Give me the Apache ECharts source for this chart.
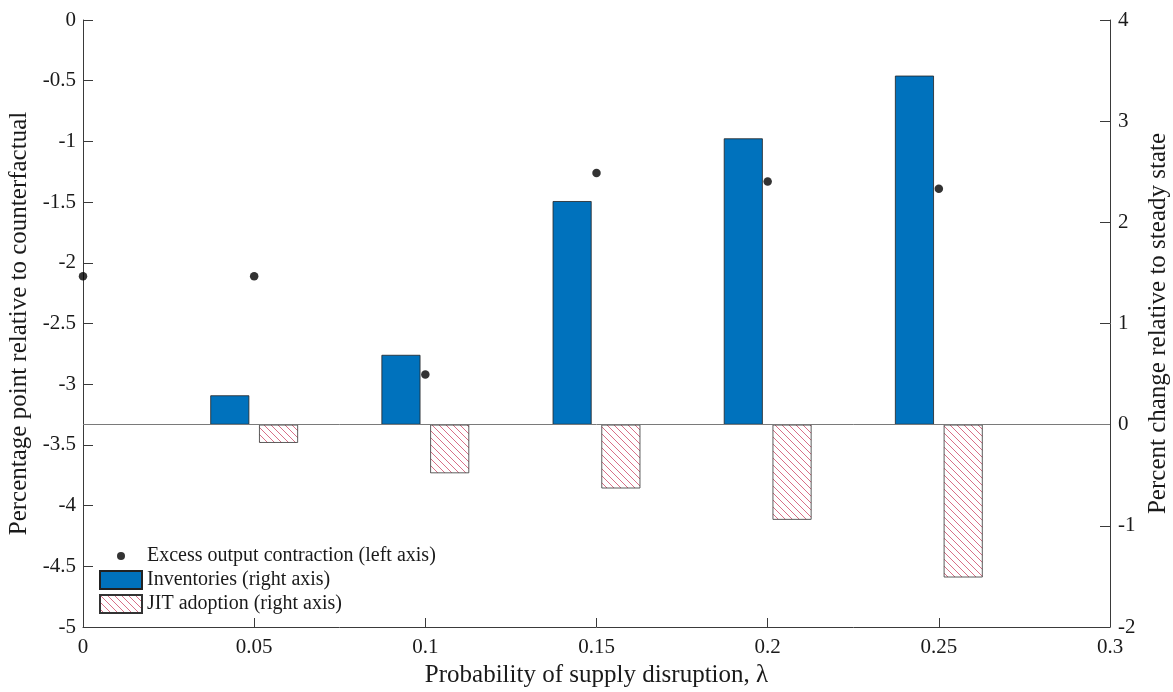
<!DOCTYPE html>
<html>
<head>
<meta charset="utf-8">
<title>Supply disruption probability</title>
<script src="https://cdn.jsdelivr.net/npm/echarts@6/dist/echarts.min.js"></script>
<style>
  html, body { margin: 0; padding: 0; background: #fff; }
  #chart { width: 1173px; height: 692px; }
</style>
</head>
<body>
<div id="chart"></div>
<script>
// Probability of supply disruption (x values)
const lambdaPoints = [0, 0.05, 0.1, 0.15, 0.2, 0.25];
const lambdaBars = [0.05, 0.1, 0.15, 0.2, 0.25];

// Excess output contraction, percentage points (left axis)
const outputContraction = [-2.11, -2.11, -2.92, -1.26, -1.33, -1.39];
// Inventories, percent change relative to steady state (right axis)
const inventories = [0.29, 0.69, 2.21, 2.83, 3.45];
// JIT adoption, percent change relative to steady state (right axis)
const jitAdoption = [-0.18, -0.48, -0.63, -0.94, -1.51];

const seriesNames = [
  'Excess output contraction (left axis)',
  'Inventories (right axis)',
  'JIT adoption (right axis)'
];

const FONT = '"Liberation Serif", "DejaVu Serif", serif';
const AXIS_COLOR = '#3a3a3a';

// Diagonal hatch used for the JIT bars
function makeHatch() {
  const s = 7;
  const c = document.createElement('canvas');
  c.width = s; c.height = s;
  const g = c.getContext('2d');
  g.fillStyle = '#ffffff';
  g.fillRect(0, 0, s, s);
  g.strokeStyle = '#d4607a';
  g.lineWidth = 0.9;
  g.beginPath();
  g.moveTo(-1, -1); g.lineTo(s + 1, s + 1);
  g.moveTo(-1, s - 1); g.lineTo(1, s + 1);
  g.moveTo(s - 1, -1); g.lineTo(s + 1, 1);
  g.stroke();
  return c;
}

const pair = (xs, ys) => xs.map((x, i) => [x, ys[i]]);

const chart = echarts.init(document.getElementById('chart'), null, { renderer: 'canvas' });

const tickLabel = { color: '#1a1a1a', fontFamily: FONT, fontSize: 21 };
const nameText = { color: '#1a1a1a', fontFamily: FONT, fontSize: 25 };

chart.setOption({
  animation: false,
  backgroundColor: '#ffffff',
  grid: {
    left: 83, right: 63, top: 20, bottom: 65,
    containLabel: false,
    outerBoundsMode: 'none'
  },
  legend: {
    orient: 'vertical',
    left: 99,
    top: 546,
    padding: 0,
    itemWidth: 42,
    itemHeight: 18,
    itemGap: 4,
    textStyle: { color: '#1a1a1a', fontFamily: FONT, fontSize: 20 },
    data: [
      { name: seriesNames[0], icon: 'path://M0,0M42,18M17,9a4,4,0,1,0,8,0a4,4,0,1,0,-8,0Z' },
      { name: seriesNames[1], icon: 'rect' },
      { name: seriesNames[2], icon: 'rect' }
    ]
  },
  xAxis: {
    type: 'value',
    min: 0,
    max: 0.3,
    interval: 0.05,
    name: 'Probability of supply disruption, λ',
    nameLocation: 'middle',
    nameGap: 36,
    nameTextStyle: nameText,
    axisLine: { show: true, onZero: false, lineStyle: { color: AXIS_COLOR, width: 1 } },
    axisTick: { show: true, inside: true, length: 9, lineStyle: { color: AXIS_COLOR } },
    axisLabel: Object.assign({ margin: 10 }, tickLabel),
    splitLine: { show: false }
  },
  yAxis: [
    {
      type: 'value',
      position: 'left',
      min: -5,
      max: 0,
      interval: 0.5,
      name: 'Percentage point relative to counterfactual',
      nameLocation: 'middle',
      nameRotate: 90,
      nameGap: 50,
      nameTextStyle: nameText,
      axisLine: { show: true, onZero: false, lineStyle: { color: AXIS_COLOR, width: 1 } },
      axisTick: { show: true, inside: true, length: 10, lineStyle: { color: AXIS_COLOR } },
      axisLabel: Object.assign({ margin: 7 }, tickLabel),
      splitLine: { show: false }
    },
    {
      type: 'value',
      position: 'right',
      min: -2,
      max: 4,
      interval: 1,
      name: 'Percent change relative to steady state',
      nameLocation: 'middle',
      nameRotate: 90,
      nameGap: 30,
      nameTextStyle: nameText,
      axisLine: { show: true, onZero: false, lineStyle: { color: AXIS_COLOR, width: 1 } },
      axisTick: { show: true, inside: true, length: 10, lineStyle: { color: AXIS_COLOR } },
      axisLabel: Object.assign({ margin: 8 }, tickLabel),
      splitLine: { show: false }
    }
  ],
  series: [
    {
      name: seriesNames[1],
      type: 'bar',
      yAxisIndex: 1,
      barWidth: 39,
      barGap: '25%',
      data: pair(lambdaBars, inventories),
      itemStyle: { color: '#0072BD', borderColor: '#222222', borderWidth: 0.8 },
      markLine: {
        silent: true,
        symbol: 'none',
        label: { show: false },
        lineStyle: { color: '#7a7a7a', width: 1, type: 'solid' },
        data: [{ yAxis: 0 }]
      },
      z: 2
    },
    {
      name: seriesNames[2],
      type: 'bar',
      yAxisIndex: 1,
      barWidth: 39,
      barGap: '25%',
      data: pair(lambdaBars, jitAdoption),
      itemStyle: {
        color: { image: makeHatch(), repeat: 'repeat' },
        borderColor: '#333333',
        borderWidth: 0.8
      },
      z: 2
    },
    {
      name: seriesNames[0],
      type: 'scatter',
      yAxisIndex: 0,
      symbol: 'circle',
      symbolSize: 8.5,
      data: pair(lambdaPoints, outputContraction),
      itemStyle: { color: '#000000' },
      z: 5
    }
  ]
});
</script>
</body>
</html>
